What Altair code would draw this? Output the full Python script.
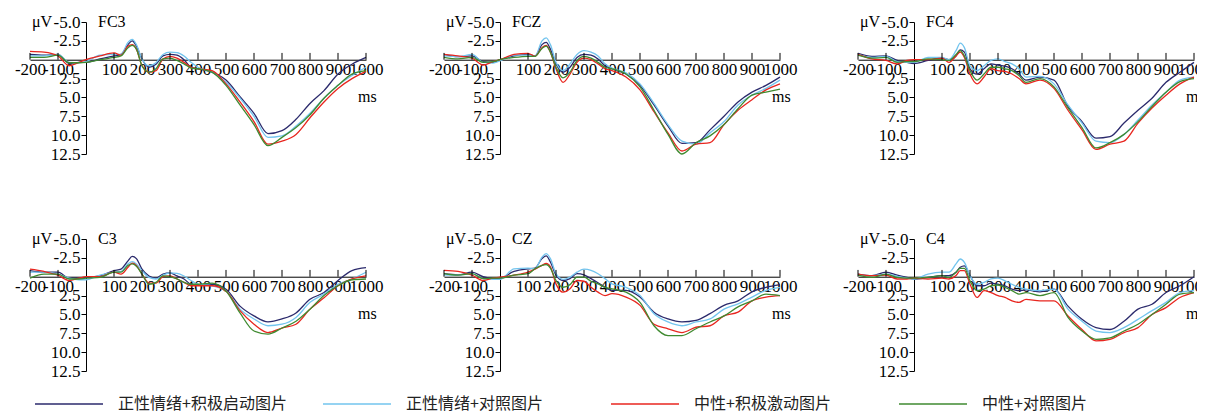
import altair as alt
import pandas as pd

# time points (ms)
T = [-200, -150, -100, -60, -25, 0, 50, 100, 125, 150, 165, 180, 200, 225, 250, 275,
     300, 325, 350, 375, 400, 450, 500, 550, 600, 650, 700, 750, 800, 850, 900, 950, 1000]

CONDS = ["正性情绪+积极启动图片", "正性情绪+对照图片", "中性+积极激动图片", "中性+对照图片"]
COLORS = ["#2b2a6c", "#72c4ee", "#e8261f", "#3f8a30"]

X_LABELS = [-200, -100, 100, 200, 300, 400, 500, 600, 700, 800, 900, 1000]
X_TICKS = [-200, -100, 100, 200, 300, 400, 500, 600, 700, 800, 900, 1000]
Y_LABELS = [-5.0, -2.5, 2.5, 5.0, 7.5, 10.0, 12.5]

# amplitudes (µV), negative up
FC3_a = [-0.7,-0.6,-0.7,0.5,0.35,0.35,-0.1,-0.5,-0.7,-2.0,-2.5,-1.8,-0.1,1.0,0.6,-0.5,-0.7,-0.6,0.0,1.0,1.2,1.65,2.7,4.9,7.1,9.8,9.4,7.9,5.8,4.1,1.9,0.6,-0.3]
FC3_b = [-0.5,-0.5,-0.7,0.35,0.4,0.25,-0.6,-0.7,-0.7,-2.3,-2.7,-2.0,-0.1,0.8,0.4,-0.7,-1.0,-0.95,-0.5,0.35,1.0,1.65,3.0,5.1,7.5,10.3,10.1,8.8,7.1,5.1,3.4,2.1,1.0]
FC3_c = [-1.1,-1.0,-0.5,0.8,0.35,0.0,-0.5,-0.9,-0.6,-1.8,-2.0,-1.4,0.8,1.65,1.45,-0.1,-0.45,-0.2,0.35,1.0,1.2,1.45,3.2,5.6,8.2,11.2,10.8,9.9,7.7,5.6,3.8,2.5,1.55]
FC3_d = [-0.3,-0.3,-0.6,0.4,0.4,0.35,0.0,-0.3,-0.5,-1.6,-1.9,-1.4,0.8,1.65,1.2,-0.1,-0.2,0.1,0.55,1.1,1.2,1.65,3.4,6.0,8.6,11.4,10.3,9.0,7.3,5.1,3.4,1.9,1.45]

FCZ_a = [-0.7,-0.4,-0.5,0.25,0.35,0.0,-0.5,-0.7,-0.5,-2.0,-2.3,-1.4,0.55,1.65,1.0,-0.3,-0.7,-0.6,-0.1,0.8,1.2,1.9,3.4,6.0,8.8,11.1,11.0,9.3,7.5,5.6,4.3,3.4,2.3]
FCZ_b = [-0.5,-0.4,-0.7,0.35,0.45,0.15,-0.6,-0.6,-0.5,-2.5,-2.9,-2.0,0.35,1.45,0.55,-0.7,-1.2,-1.0,-0.5,0.55,1.1,1.75,3.2,5.8,8.6,10.8,11.2,9.7,8.2,6.0,4.7,3.8,2.7]
FCZ_c = [-0.7,-0.5,-0.2,0.7,0.25,0.0,-0.7,-0.85,-0.45,-1.6,-1.9,-1.0,1.2,3.0,1.9,0.35,-0.2,0.0,0.55,1.2,1.45,2.3,4.0,6.9,9.7,12.1,11.2,11.0,8.6,6.7,5.3,4.0,3.2]
FCZ_d = [-0.3,-0.1,-0.3,0.35,0.25,0.0,-0.3,-0.45,-0.45,-1.5,-1.8,-1.0,1.0,2.4,1.65,0.1,-0.45,-0.2,0.35,1.0,1.2,1.9,3.6,6.7,9.9,12.5,11.0,10.1,8.6,6.5,4.7,4.3,3.9]

FC4_a = [-0.85,-0.45,-0.5,0.1,0.35,0.5,0.1,-0.2,0.0,-0.5,-1.3,-1.0,1.2,1.9,1.2,0.55,0.7,0.85,1.2,1.9,2.7,2.3,2.7,6.2,8.2,10.4,10.2,8.4,6.7,5.1,3.0,1.65,0.35]
FC4_b = [-0.7,-0.3,-0.45,0.25,0.35,0.35,-0.3,-0.3,0.0,-1.2,-2.2,-1.6,0.8,1.45,0.8,0.1,-0.1,0.25,0.55,1.2,2.3,2.2,3.2,6.0,8.4,10.8,11.0,9.9,8.0,6.0,4.3,2.7,2.3]
FC4_c = [-0.7,-0.1,0.1,0.55,0.1,0.0,0.0,-0.2,0.35,-0.5,-1.0,-0.3,1.9,3.2,2.3,1.2,1.45,1.55,1.9,2.5,3.2,2.7,3.8,6.7,9.3,11.9,11.2,10.8,8.4,6.4,4.7,3.2,2.3]
FC4_d = [-0.6,-0.2,-0.3,0.35,0.25,0.25,-0.1,0.0,0.1,-0.7,-1.2,-0.5,1.45,2.7,1.9,1.0,1.0,1.2,1.45,2.1,3.0,2.5,3.6,6.4,9.0,11.7,11.0,9.9,8.2,6.2,4.3,2.9,2.5]

C3_a = [-0.8,-0.6,-0.6,0.2,0.2,0.1,-0.1,-0.8,-1.0,-2.1,-2.7,-2.4,-1.0,-0.1,0.2,-0.35,-0.5,-0.1,0.3,1.0,1.1,1.0,1.65,3.9,5.2,6.0,5.6,4.8,3.0,2.1,0.5,-0.8,-1.2]
C3_b = [-0.6,-0.6,-0.35,0.2,0.4,0.4,-0.2,-0.6,-0.7,-1.7,-2.0,-1.7,-0.8,0.1,0.3,-0.2,-0.5,-0.45,-0.1,0.5,1.0,1.2,1.9,4.3,5.6,6.5,6.3,5.4,3.4,2.3,1.0,0.3,-0.6]
C3_c = [-1.0,-0.7,-0.2,0.5,0.2,0.0,0.0,-0.6,-0.35,-1.25,-1.8,-1.5,-0.35,0.85,0.85,0.0,-0.1,0.3,0.75,1.2,1.2,1.2,1.9,4.5,6.3,7.4,6.8,6.3,4.3,2.8,1.2,0.3,-0.1]
C3_d = [0.2,-0.35,-0.35,0.3,0.3,0.2,0.1,-0.6,-0.6,-1.5,-1.7,-1.4,-0.35,1.0,0.75,-0.1,0.0,0.3,0.75,1.0,1.0,0.85,1.9,4.8,7.2,7.6,6.8,5.9,4.3,2.5,1.2,0.4,0.3]

CZ_a = [-0.4,-0.25,-0.6,0.0,0.25,0.2,-0.7,-1.05,-1.15,-2.4,-2.75,-1.95,-0.2,0.5,0.25,-0.4,-0.25,0.25,0.8,1.4,1.8,1.8,2.7,4.7,5.6,6.0,5.8,4.9,3.8,3.2,2.0,1.4,1.05]
CZ_b = [-0.25,-0.2,-0.4,0.25,0.35,0.35,-1.05,-1.15,-1.05,-2.6,-3.05,-2.4,-0.4,0.35,0.05,-0.6,-1.0,-0.85,-0.4,0.25,0.95,1.4,2.5,4.9,6.0,6.5,6.0,5.6,4.3,3.6,2.7,1.8,1.4]
CZ_c = [-0.85,-0.7,-0.2,0.5,0.2,0.05,-0.2,-0.6,-1.0,-1.5,-1.75,-1.3,0.95,2.05,1.6,0.5,0.6,1.4,2.05,2.5,2.25,2.7,3.8,6.3,6.9,7.4,6.7,6.5,5.2,4.7,3.2,2.7,2.5]
CZ_d = [-0.4,-0.2,-0.4,0.25,0.2,0.2,-0.2,-0.4,-1.05,-1.5,-1.6,-1.15,0.5,1.4,1.05,0.05,0.05,0.6,0.95,1.4,1.6,2.05,3.4,6.5,7.8,7.8,6.9,6.0,5.2,4.0,3.2,2.3,2.5]

C4_a = [-0.35,-0.15,-0.6,-0.2,0.1,0.3,0.1,-0.15,-0.15,-0.6,-1.25,-1.45,-0.15,1.2,1.2,0.85,1.0,1.2,1.65,1.85,1.75,2.0,1.65,3.9,5.65,6.75,7.0,5.9,4.3,3.65,2.1,1.2,0.0]
C4_b = [-0.2,-0.15,-0.35,-0.05,0.2,0.3,-0.35,-0.6,-0.6,-1.7,-2.35,-1.9,-0.15,1.0,0.75,0.3,0.2,0.55,1.0,1.4,1.65,1.85,1.65,4.3,5.9,7.2,7.4,6.75,5.65,4.5,3.4,2.1,1.85]
C4_c = [-0.35,-0.15,-0.2,0.3,0.3,0.2,0.3,0.2,0.3,-0.15,-0.8,-0.8,1.0,2.75,1.85,2.1,2.5,2.75,3.2,3.4,3.0,3.2,3.2,5.2,7.0,8.5,8.3,7.4,6.75,5.0,4.1,2.75,2.1]
C4_d = [-0.2,0.1,-0.35,0.1,0.2,0.2,0.1,-0.15,0.1,-0.6,-1.1,-1.1,0.55,1.85,1.65,1.2,1.1,1.4,1.85,2.3,2.1,2.5,2.1,5.4,7.2,8.3,8.1,7.2,6.3,5.0,3.65,2.3,2.1]

PANELS = [
    ("FC3", [FC3_a, FC3_b, FC3_c, FC3_d]),
    ("FCZ", [FCZ_a, FCZ_b, FCZ_c, FCZ_d]),
    ("FC4", [FC4_a, FC4_b, FC4_c, FC4_d]),
    ("C3", [C3_a, C3_b, C3_c, C3_d]),
    ("CZ", [CZ_a, CZ_b, CZ_c, CZ_d]),
    ("C4", [C4_a, C4_b, C4_c, C4_d]),
]

W, H = 336, 132
XMIN, XMAX, YMIN, YMAX = -200, 1000, -5.0, 12.5
SERIF = "Liberation Serif"
CJK = "Noto Sans CJK SC"
FS = 17

XS = alt.Scale(domain=[XMIN, XMAX], nice=False, zero=False)
YS = alt.Scale(domain=[YMIN, YMAX], reverse=True, nice=False, zero=False)
X_AXIS = alt.Axis(orient="bottom", offset=-H * (YMAX - 0) / (YMAX - YMIN), values=X_LABELS,
                  labelExpr="'' + datum.value", ticks=False, title=None,
                  labelPadding=2, labelOverlap=False, labelFlush=False,
                  grid=False, domainColor="black", labelColor="black",
                  labelFont=SERIF, labelFontSize=FS)
Y_AXIS = alt.Axis(orient="left", offset=-W * (0 - XMIN) / (XMAX - XMIN), values=Y_LABELS,
                  labelExpr="(datum.value < 0 ? '-' : '') + format(abs(datum.value), '.1f')",
                  tickSize=5, tickColor="black", labelPadding=1, title=None,
                  labelOverlap=False, labelFlush=False, grid=False,
                  domainColor="black", labelColor="black",
                  labelFont=SERIF, labelFontSize=FS)
LEGEND = alt.Legend(orient="none", legendX=4, legendY=347,
                    direction="horizontal", columns=4, title=None,
                    symbolType="stroke", symbolSize=4624,
                    symbolStrokeWidth=1.5, labelFont=CJK,
                    labelFontSize=16, labelLimit=400, labelOffset=14,
                    columnPadding=33, gridAlign="all", labelColor="#222222")


def xenc():
    return alt.X("t:Q", scale=XS, axis=X_AXIS)


def yenc():
    return alt.Y("v:Q", scale=YS, axis=Y_AXIS)


def panel(name, series):
    rows = []
    for cond, vals in zip(CONDS, series):
        for t, v in zip(T, vals):
            rows.append({"t": t, "v": v, "cond": cond})
    df = pd.DataFrame(rows)

    lines = alt.Chart(df).mark_line(strokeWidth=1.3, interpolate="monotone").encode(
        x=xenc(), y=yenc(),
        color=alt.Color("cond:N", scale=alt.Scale(domain=CONDS, range=COLORS),
                        sort=CONDS, legend=LEGEND),
    )

    tick_df = pd.DataFrame({"t": X_TICKS, "v": [0.0] * len(X_TICKS), "v2": [-0.9] * len(X_TICKS)})
    ticks = alt.Chart(tick_df).mark_rule(color="black", strokeWidth=1).encode(
        x=xenc(), y=yenc(), y2="v2:Q",
    )

    def label(t, v, txt, dx, align):
        d = pd.DataFrame({"t": [t], "v": [v], "txt": [txt]})
        return alt.Chart(d).mark_text(font=SERIF, fontSize=16, color="black",
                                      align=align, baseline="middle", dx=dx).encode(
            x=xenc(), y=yenc(), text="txt:N",
        )

    uv = label(XMIN, YMIN, "μV", 2, "left")
    ttl = label(0, YMIN, name, 12, "left")
    ms = label(XMAX, 5.0, "ms", -8, "left")

    return alt.layer(lines, ticks, uv, ttl, ms).properties(width=W, height=H)


charts = [panel(n, s) for n, s in PANELS]
row1 = alt.hconcat(*charts[:3], spacing=78, bounds="flush")
row2 = alt.hconcat(*charts[3:], spacing=78, bounds="flush")
chart = alt.vconcat(row1, row2, spacing=68).resolve_scale(
    color="shared"
).properties(
    padding={"left": 6, "top": 5, "right": -14, "bottom": 0}
).configure_view(stroke=None)

chart.save("out.html", embed_options={"renderer": "svg", "actions": False})
